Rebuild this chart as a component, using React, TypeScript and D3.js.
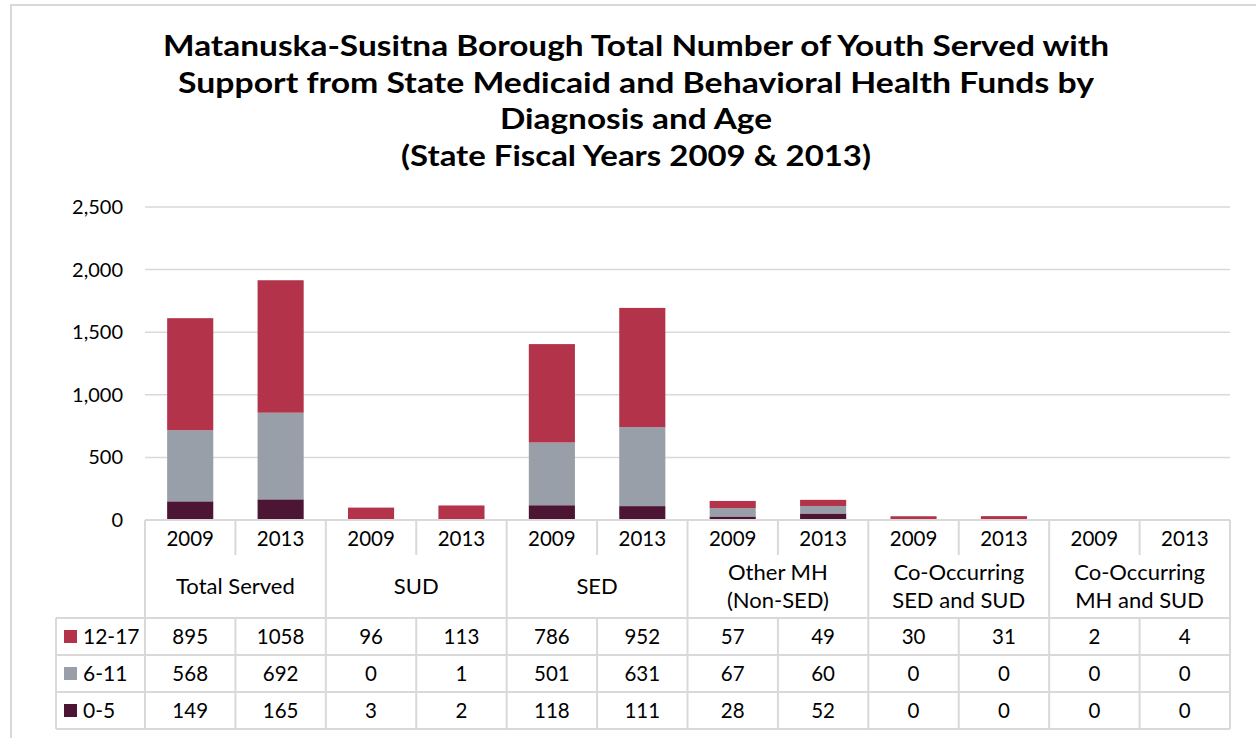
import React from "react";
import * as d3 from "d3";

const categories = ["Total Served", "SUD", "SED", "Other MH\n(Non-SED)", "Co-Occurring\nSED and SUD", "Co-Occurring\nMH and SUD"];
const years = ["2009", "2013"];
const age12to17 = [895, 1058, 96, 113, 786, 952, 57, 49, 30, 31, 2, 4];
const age6to11 = [568, 692, 0, 1, 501, 631, 67, 60, 0, 0, 0, 0];
const age0to5 = [149, 165, 3, 2, 118, 111, 28, 52, 0, 0, 0, 0];
const yTicks = [0, 500, 1000, 1500, 2000, 2500];
const titleLines = [
  "Matanuska-Susitna Borough Total Number of Youth Served with",
  "Support from State Medicaid and Behavioral Health Funds by",
  "Diagnosis and Age",
  "(State Fiscal Years 2009 & 2013)",
];
const titleWidths = [946, 916, 272, 470];

const colors: Record<string, string> = { "12-17": "#B3334B", "6-11": "#989FA8", "0-5": "#4D1534" };
const FONT = "Lato, 'Open Sans', sans-serif";
const GRID = "#d9d9d9";

export default function App() {
  const left = 145, right = 1230, top = 207, bottom = 520;
  const cols = d3.range(categories.length * years.length);
  const x = d3.scaleBand<number>().domain(cols).range([left, right]).padding(0);
  const y = d3.scaleLinear().domain([0, 2500]).range([bottom, top]);
  const bw = x.bandwidth() * 0.51;

  const rows = cols.map((i) => ({
    "0-5": age0to5[i],
    "6-11": age6to11[i],
    "12-17": age12to17[i],
  }));
  const stack = d3.stack<any>().keys(["0-5", "6-11", "12-17"])(rows);

  const tableTop = bottom;
  const yearRowBottom = 555;
  const catRowBottom = 618;
  const rowH = 37;
  const tableRows = [
    { name: "12-17", values: age12to17 },
    { name: "6-11", values: age6to11 },
    { name: "0-5", values: age0to5 },
  ];
  const tableBottom = catRowBottom + rowH * 3;
  const legendLeft = 56;
  const colW = x.bandwidth();

  return (
    <svg width={1256} height={738} style={{ position: "absolute", left: 0, top: 0, background: "#fff" }} fontFamily={FONT}>
      <rect x={11} y={5} width={1300} height={800} fill="#fff" stroke={GRID} strokeWidth={2} />
      {titleLines.map((t, i) => (
        <text
          key={i}
          x={636}
          y={56 + i * 36.5}
          textAnchor="middle"
          fontSize={28}
          fontWeight={700}
          fill="#000"
          textLength={titleWidths[i]}
          lengthAdjust="spacingAndGlyphs"
        >
          {t}
        </text>
      ))}
      {yTicks.map((t) => (
        <g key={t}>
          {t > 0 && <line x1={left} x2={right} y1={y(t)} y2={y(t)} stroke={GRID} strokeWidth={1.5} />}
          <text x={123} y={y(t) + 7} textAnchor="end" fontSize={20} fill="#000">
            {d3.format(",")(t)}
          </text>
        </g>
      ))}
      {stack.map((s) => (
        <g key={s.key} fill={colors[s.key as string]}>
          {s.map((d, i) => (
            <rect key={i} x={(x(i) as number) + (colW - bw) / 2} y={y(d[1])} width={bw} height={Math.max(0, y(d[0]) - y(d[1]))} />
          ))}
        </g>
      ))}
      <g stroke={GRID} strokeWidth={2} fill="none">
        <line x1={left} x2={right} y1={tableTop} y2={tableTop} />
        <line x1={legendLeft} x2={right} y1={catRowBottom} y2={catRowBottom} />
        {[1, 2].map((r) => (
          <line key={r} x1={legendLeft} x2={right} y1={catRowBottom + rowH * r} y2={catRowBottom + rowH * r} />
        ))}
        <line x1={legendLeft} x2={right} y1={tableBottom} y2={tableBottom} />
        <line x1={legendLeft} x2={legendLeft} y1={catRowBottom} y2={tableBottom} />
        {cols.map((i) => {
          const xx = x(i) as number;
          return <line key={i} x1={xx} x2={xx} y1={tableTop} y2={tableBottom} />;
        })}
        <line x1={right} x2={right} y1={tableTop} y2={tableBottom} />
      </g>
      {categories.map((c, ci) => {
        const xx = x(ci * 2 + 1) as number;
        return <rect key={ci} x={xx - 2} y={yearRowBottom} width={4} height={catRowBottom - yearRowBottom - 1} fill="#fff" />;
      })}
      {cols.map((i) => (
        <text key={i} x={(x(i) as number) + colW / 2} y={546} textAnchor="middle" fontSize={20.5} fill="#000">
          {years[i % 2]}
        </text>
      ))}
      {categories.map((c, ci) => {
        const lines = c.split("\n");
        const cx = (x(ci * 2) as number) + colW;
        const cy = (yearRowBottom + catRowBottom) / 2;
        return (
          <text key={ci} textAnchor="middle" fontSize={22} fill="#000">
            {lines.map((l, li) => (
              <tspan key={li} x={cx} y={cy + 7.5 + (li - (lines.length - 1) / 2) * 28}>
                {l}
              </tspan>
            ))}
          </text>
        );
      })}
      {tableRows.map((r, ri) => {
        const cy = catRowBottom + rowH * ri + rowH / 2;
        return (
          <g key={r.name}>
            <rect x={64} y={cy - 6.5} width={13} height={13} fill={colors[r.name]} />
            <text x={83} y={cy + 7} fontSize={21} fill="#000">
              {r.name}
            </text>
            {r.values.map((v, i) => (
              <text key={i} x={(x(i) as number) + colW / 2} y={cy + 7} textAnchor="middle" fontSize={20.5} fill="#000">
                {v}
              </text>
            ))}
          </g>
        );
      })}
    </svg>
  );
}
